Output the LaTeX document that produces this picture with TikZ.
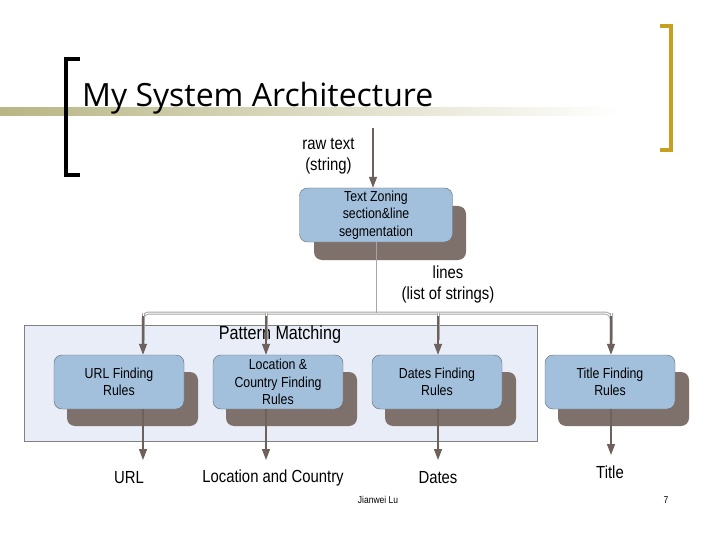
\documentclass[tikz,border=0pt]{standalone}
\usepackage{fontspec}
\setmainfont{Open Sans}
\newfontfamily\cond{Liberation Sans}[FakeStretch=0.85]
\usetikzlibrary{arrows.meta,shadings}
\definecolor{boxfill}{HTML}{A2C0DC}
\definecolor{shad}{HTML}{7E716B}
\definecolor{arr}{HTML}{6E605A}
\definecolor{olive}{HTML}{B8B684}
\definecolor{gold}{HTML}{C8A020}
\definecolor{pm}{HTML}{E8EDF7}
\begin{document}
\begin{tikzpicture}[x=1pt,y=-1pt,
  rule/.style={fill=boxfill,draw=gray!80!black,rounded corners=8pt,minimum width=130pt,minimum height=54pt,align=center,font=\cond\fontsize{14.5}{17.5}\selectfont,inner sep=1pt},
  sh/.style={fill=shad,rounded corners=8pt},
  ar/.style={draw=arr,line width=1.3pt,-{Triangle[width=8pt,length=11pt]}},
  lab/.style={font=\cond\fontsize{17.5}{21}\selectfont,align=center}]
\useasboundingbox (0,0) rectangle (720,540);
% title decoration
\shade[left color=olive,right color=white] (0,108) rectangle (620,116);
\draw[line width=4.5pt,line cap=butt] (80,59) -- (66,59) -- (66,175) -- (80,175);
\draw[gold,line width=4pt] (660,26) -- (671,26) -- (671,150) -- (660,150);
\node[anchor=base west,font=\fontsize{32}{36}\selectfont,inner sep=0] (title) at (82,107) {My System Architecture};
% text zoning
\fill[sh] (314,206) rectangle (466,260);
\node[rule,minimum width=153pt] (tz) at (376,215) {Text Zoning\\section\&line\\segmentation};
\coordinate (in) at (373,128);
\draw[ar] (in) -- (tz.north -| in);
\node[lab,anchor=east] (raw) at (358,156) {raw text\\(string)};
\node[lab] (lines) at (448,284) {lines\\(list of strings)};
% pattern matching
\node[draw=gray,fill=pm,minimum width=513pt,minimum height=116pt,inner sep=0] (pmbox) at (280.5,383) {};
\node[font=\cond\fontsize{19}{22}\selectfont] (pmt) at (280,335) {Pattern Matching};
% rule boxes
\foreach \n/\x/\t in {url/119/{URL Finding\\Rules},loc/278/{Location \&\\Country Finding\\Rules},dat/437/{Dates Finding\\Rules},tit/610/{Title Finding\\Rules}}{
  \fill[sh] (\x-52,372) rectangle (\x+79,426);
  \node[rule] (\n) at (\x,382) {\t};
}
% bus
\coordinate (bus) at (376,313);
\draw[gray!70,line width=3pt,rounded corners=6pt] (143,345) |- (611,313) -- (611,345);
\draw[white,line width=1pt,rounded corners=6pt] (143,345) |- (611,313) -- (611,345);
\draw[draw=gray!70,line width=1pt] (tz.south -| bus) -- (bus);
\foreach \n/\x in {url/143,loc/266,dat/438,tit/611}{
  \draw[gray!70,line width=3pt] (\x,313) -- (\x,340);
  \draw[white,line width=1pt] (\x,313) -- (\x,340);
  \draw[ar] (\x,316) -- (\n.north -| \x,0);
}
% outputs
\node[lab] (o1) at (129,478) {URL};
\node[lab] (o2) at (273,478) {Location and Country};
\node[lab] (o3) at (438,478) {Dates};
\node[lab] (o4) at (610,472) {Title};
\draw[ar] (url.south -| 143,0) -- (143,460);
\draw[ar] (loc.south -| 266,0) -- (266,460);
\draw[ar] (dat.south -| 438,0) -- (438,460);
\draw[ar] (tit.south -| 611,0) -- (611,455);
\node[font=\cond\fontsize{10}{11}\selectfont] (au) at (378,500) {Jianwei Lu};
\node[font=\cond\fontsize{10}{11}\selectfont] (pg) at (666,500) {7};
\end{tikzpicture}
\end{document}
